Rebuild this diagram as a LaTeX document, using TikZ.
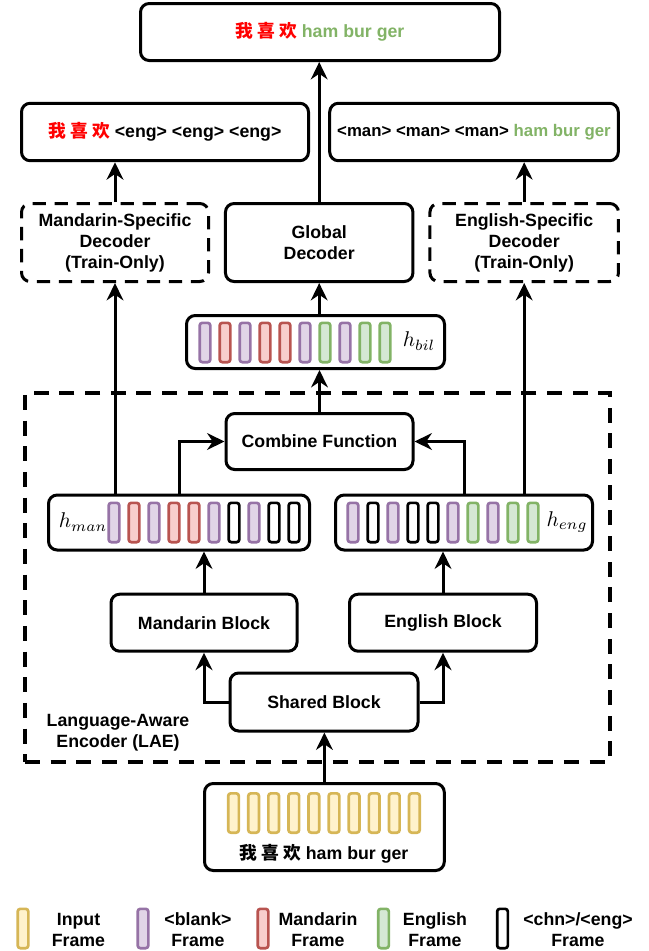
\documentclass[tikz,border=0pt]{standalone}
\usepackage[no-math]{fontspec}
\setmainfont{Liberation Sans}
\newfontfamily\cjk{Noto Sans CJK SC}
\usepackage{tikz}
\usetikzlibrary{positioning,arrows.meta}

\definecolor{inD}{HTML}{D6B656}
\definecolor{inF}{HTML}{FFF2CC}
\definecolor{blankD}{HTML}{9673A6}
\definecolor{blankF}{HTML}{E1D5E7}
\definecolor{manD}{HTML}{B85450}
\definecolor{manF}{HTML}{F8CECC}
\definecolor{engD}{HTML}{82B366}
\definecolor{engF}{HTML}{D5E8D4}
\definecolor{zhred}{HTML}{FF0000}

\newcommand\boxfont{\fontsize{13.3}{15.8}\selectfont\bfseries}
\newcommand\zh[1]{{\cjk #1}}

\begin{document}
\begin{tikzpicture}[
  x=0.75pt, y=-0.75pt,
  block/.style={rectangle, draw, rounded corners=6.5pt, line width=2.25pt, align=center, inner sep=0pt, font=\boxfont},
  trainonly/.style={block, dash pattern=on 10pt off 6.5pt},
  arrow/.style={-{Stealth[length=13pt, width=12.5pt]}, line width=2.25pt},
  frm/.style={rectangle, rounded corners=2pt, line width=2pt, minimum width=8pt, minimum height=29.5pt, inner sep=0pt},
  fin/.style={frm, draw=inD, fill=inF},
  fblank/.style={frm, draw=blankD, fill=blankF},
  fman/.style={frm, draw=manD, fill=manF},
  feng/.style={frm, draw=engD, fill=engF},
  ftag/.style={frm, draw=black, fill=white},
  hlabel/.style={inner sep=0pt}
]
\useasboundingbox (0,0) rectangle (649,951);

% Outputs
\node[block, minimum width=269.25pt, minimum height=42.75pt] (final) at (320,32)
  {\zh{\color{zhred}我 喜 欢} \textcolor{engD}{ham bur ger}};
\node[block, minimum width=215.25pt, minimum height=43.1pt] (outman) at (165,132)
  {\zh{\color{zhred}我 喜 欢} <eng> <eng> <eng>};
\node[block, minimum width=216.4pt, minimum height=43.1pt, font=\fontsize{12.6}{15}\selectfont\bfseries] (outeng) at (474,132)
  {<man> <man> <man> \textcolor{engD}{ham bur ger}};

% Decoders
\node[trainonly, minimum width=140.25pt, minimum height=58.5pt] (decman) at (115,242.5)
  {Mandarin-Specific\\Decoder\\(Train-Only)};
\node[block, minimum width=140.6pt, minimum height=58.5pt] (decglob) at (319.2,242.5)
  {Global\\Decoder};
\node[trainonly, minimum width=141.4pt, minimum height=58.5pt] (deceng) at (524.2,242.5)
  {English-Specific\\Decoder\\(Train-Only)};

% Bilingual representation
\node[block, minimum width=193.5pt, minimum height=39.75pt] (hbil) at (315.5,342) {};
\foreach \s [count=\i] in {fblank,fman,fblank,fman,fman,fblank,feng,fblank,feng,feng}
  \node[\s] (bil\i) at ({205+20*(\i-1)},342.5) {};
\node[hlabel] (hbillbl) at (419,341) {\scalebox{1.6}{$h_{bil}$}};

% Language-aware encoder
\node[rectangle, draw, line width=3pt, dash pattern=on 11.25pt off 8pt, minimum width=438.4pt, minimum height=276.75pt] (lae) at (317.25,577.5) {};
\node[font=\boxfont, align=center] (laelbl) at (118,733) {Language-Aware\\Encoder (LAE)};

\node[block, minimum width=140.25pt, minimum height=42pt] (comb) at (319.5,441.5) {Combine Function};

\node[block, minimum width=195.75pt, minimum height=41.25pt] (hman) at (179,522.5) {};
\foreach \s [count=\i] in {fblank,fman,fblank,fman,fman,fblank,ftag,fblank,ftag,ftag}
  \node[\s] (man\i) at ({114+20*(\i-1)},522.5) {};
\node[hlabel] (hmanlbl) at (83,522) {\scalebox{1.6}{$h_{man}$}};

\node[block, minimum width=192.75pt, minimum height=41.25pt] (heng) at (464,522.5) {};
\foreach \s [count=\i] in {fblank,ftag,fblank,ftag,ftag,fblank,feng,fblank,feng,feng}
  \node[\s] (eng\i) at ({353+20*(\i-1)},522.5) {};
\node[hlabel] (hengl) at (567,522) {\scalebox{1.6}{$h_{eng}$}};

\node[block, minimum width=139.5pt, minimum height=42.75pt] (mblock) at (204,622.7) {Mandarin Block};
\node[block, minimum width=140.25pt, minimum height=42.75pt] (eblock) at (443,622.7) {English Block};
\node[block, minimum width=141pt, minimum height=43.5pt] (shared) at (324,702) {Shared Block};

% Input
\node[block, minimum width=179.8pt, minimum height=65.25pt] (input) at (324.4,827) {};
\foreach \i in {1,...,10}
  \node[fin] (in\i) at ({233.5+20.1*(\i-1)},813) {};
\node[font=\boxfont] (intext) at (324,854) {\zh{我 喜 欢} ham bur ger};

% Arrows
\draw[arrow] (input.north) -- (input.north |- shared.south);
\draw[arrow] (shared.west) -| (mblock.south);
\draw[arrow] (shared.east) -| (eblock.south);
\draw[arrow] (mblock.north) -- (mblock.north |- hman.south);
\draw[arrow] (eblock.north) -- (eblock.north |- heng.south);
\draw[arrow] (hman.north) |- (comb.west);
\draw[arrow] (heng.north) |- (comb.east);
\draw[arrow] (comb.north) -- (comb.north |- hbil.south);
\draw[arrow] (decglob.south |- hbil.north) -- (decglob.south);
\draw[arrow] (decman.south |- hman.north) -- (decman.south);
\draw[arrow] (deceng.south |- heng.north) -- (deceng.south);
\draw[arrow] (decman.north) -- (decman.north |- outman.south);
\draw[arrow] (deceng.north) -- (deceng.north |- outeng.south);
\draw[arrow] (decglob.north) -- (decglob.north |- final.south);

% Legend
\foreach \s/\x/\tx/\t [count=\i] in {fin/23/78.5/Input, fblank/143/198/{<blank>}, fman/263/318/Mandarin, feng/383.5/435/English, ftag/502.5/578/{<chn>/<eng>}}{
  \node[\s] (key\i) at (\x,928.5) {};
  \node[font=\boxfont, align=center] (keytxt\i) at (\tx,930) {\t\\Frame};
}
\end{tikzpicture}
\end{document}
